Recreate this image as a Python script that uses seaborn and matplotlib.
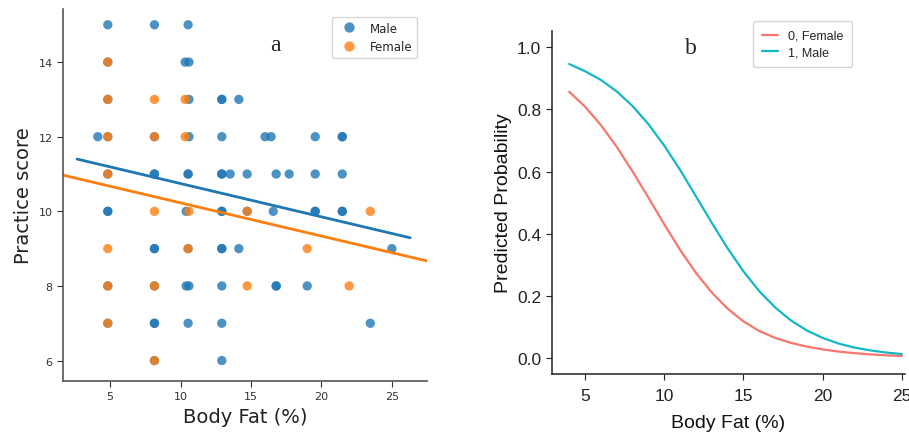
import matplotlib
matplotlib.use('Agg')
import matplotlib.pyplot as plt
import seaborn as sns
import pandas as pd

# panel a: practice score vs body fat
male_fat = [4.84, 8.15, 10.54,
            4.84, 10.33, 10.6,
            4.84, 10.6, 12.93, 12.93, 14.14,
            4.13, 4.84, 8.15, 10.6, 12.93, 16.0, 16.43, 19.56, 21.48, 21.48,
            4.84, 8.15, 8.15, 10.54, 10.54, 12.93, 12.93, 13.52, 14.73, 16.79, 17.71, 19.56, 21.48,
            4.84, 4.84, 10.4, 12.93, 12.93, 14.73, 16.58, 19.56, 19.56, 21.48, 21.48,
            8.15, 8.15, 10.54, 12.93, 12.93, 14.14, 25.0,
            4.84, 8.15, 10.4, 10.6, 12.93, 16.79, 16.79, 18.99,
            4.84, 8.15, 8.15, 10.54, 12.93, 23.47,
            8.15, 12.93]
male_score = [15, 15, 15,
              14, 14, 14,
              13, 13, 13, 13, 13,
              12, 12, 12, 12, 12, 12, 12, 12, 12, 12,
              11, 11, 11, 11, 11, 11, 11, 11, 11, 11, 11, 11, 11,
              10, 10, 10, 10, 10, 10, 10, 10, 10, 10, 10,
              9, 9, 9, 9, 9, 9, 9,
              8, 8, 8, 8, 8, 8, 8, 8,
              7, 7, 7, 7, 7, 7,
              6, 6]
female_fat = [4.84,
              4.84, 8.15, 10.33,
              4.84, 8.15, 10.33,
              4.84,
              8.15, 10.6, 14.73, 23.47,
              4.84, 10.54, 18.99,
              4.84, 8.15, 14.73, 21.97,
              4.84,
              8.15]
female_score = [14,
                13, 13, 13,
                12, 12, 12,
                11,
                10, 10, 10, 10,
                9, 9, 9,
                8, 8, 8, 8,
                7,
                6]

# fitted lines (end points)
male_line_fat = [2.66, 26.3]
male_line_score = [11.40, 9.29]
female_line_fat = [1.66, 27.49]
female_line_score = [10.97, 8.67]

# panel b: predicted probability curves
curve_fat = [4, 5, 6, 7, 8, 9, 10, 11, 12, 13, 14, 15, 16, 17, 18, 19, 20, 21, 22, 23, 24, 25]
female_prob = [0.857, 0.809, 0.750, 0.680, 0.601, 0.517, 0.431, 0.349, 0.275, 0.212, 0.160,
               0.119, 0.088, 0.066, 0.050, 0.038, 0.029, 0.022, 0.017, 0.013, 0.010, 0.008]
male_prob = [0.946, 0.923, 0.895, 0.858, 0.811, 0.753, 0.684, 0.606, 0.521, 0.436, 0.354,
             0.280, 0.216, 0.164, 0.122, 0.090, 0.066, 0.048, 0.035, 0.026, 0.019, 0.014]

scatter_df = pd.DataFrame({
    'fat': male_fat + female_fat,
    'score': male_score + female_score,
    'sex': ['Male'] * len(male_fat) + ['Female'] * len(female_fat),
})
line_df = pd.DataFrame({
    'fat': male_line_fat + female_line_fat,
    'score': male_line_score + female_line_score,
    'sex': ['Male'] * 2 + ['Female'] * 2,
})
prob_df = pd.DataFrame({
    'fat': curve_fat + curve_fat,
    'prob': female_prob + male_prob,
    'group': ['0, Female'] * len(curve_fat) + ['1, Male'] * len(curve_fat),
})

sns.set_style('ticks')
blue, orange = '#1f77b4', '#ff7f0e'

fig = plt.figure(figsize=(9.09, 4.39), dpi=100)

# ---- panel a
ax1 = fig.add_axes([0.0693, 0.1305, 0.4004, 0.8465])
sns.scatterplot(data=scatter_df, x='fat', y='score', hue='sex', hue_order=['Male', 'Female'],
                palette=[blue, orange], alpha=0.8, s=45, linewidth=0, ax=ax1)
sns.lineplot(data=line_df, x='fat', y='score', hue='sex', hue_order=['Male', 'Female'],
             palette=[blue, orange], linewidth=2, legend=False, ax=ax1)
ax1.set_xlim(1.66, 27.49)
ax1.set_ylim(5.46, 15.42)
ax1.set_xticks([5, 10, 15, 20, 25])
ax1.set_yticks([6, 8, 10, 12, 14])
ax1.tick_params(labelsize=8, colors='#333333', length=4)
for sp in ax1.spines.values():
    sp.set_color('#555555')
    sp.set_linewidth(1.2)
sns.despine(ax=ax1)
ax1.set_xlabel('Body Fat (%)', fontsize=14, color='#222222')
ax1.set_ylabel('Practice score', fontsize=14, color='#222222')
ax1.legend(loc='upper right', fontsize=8.5, frameon=True, title=None,
           bbox_to_anchor=(0.99, 0.995), markerscale=1.1)
ax1.text(16.7, 14.48, 'a', fontsize=17, family='Liberation Serif', ha='center', va='center')

# ---- panel b
ax2 = fig.add_axes([0.607, 0.1458, 0.3886, 0.7812])
sns.lineplot(data=prob_df, x='fat', y='prob', hue='group', hue_order=['0, Female', '1, Male'],
             palette=['#F8766D', '#13B8C4'], linewidth=1.6, ax=ax2)
ax2.set_xlim(2.9, 25.2)
ax2.set_ylim(-0.05, 1.052)
ax2.set_xticks([5, 10, 15, 20, 25])
ax2.set_yticks([0.0, 0.2, 0.4, 0.6, 0.8, 1.0])
ax2.set_yticklabels(['0.0', '0.2', '0.4', '0.6', '0.8', '1.0'])
ax2.tick_params(labelsize=12.5, colors='#222222', length=4, labelfontfamily='Liberation Sans')
ax2.tick_params(axis='x', pad=6)
for sp in ax2.spines.values():
    sp.set_color('#222222')
    sp.set_linewidth(1.1)
sns.despine(ax=ax2)
ax2.set_xlabel('Body Fat (%)', fontsize=14, family='Liberation Sans', color='#111111', labelpad=8)
ax2.set_ylabel('Predicted Probability', fontsize=14, family='Liberation Sans', color='#111111')
ax2.legend(loc='upper left', bbox_to_anchor=(0.553, 1.047),
           prop={'family': 'Liberation Sans', 'size': 9}, handlelength=1.3,
           labelspacing=0.35, borderpad=0.7, title=None)
ax2.text(11.7, 1.0, 'b', fontsize=17, family='Liberation Serif', ha='center', va='center')

fig.savefig('out.png', dpi=100)
